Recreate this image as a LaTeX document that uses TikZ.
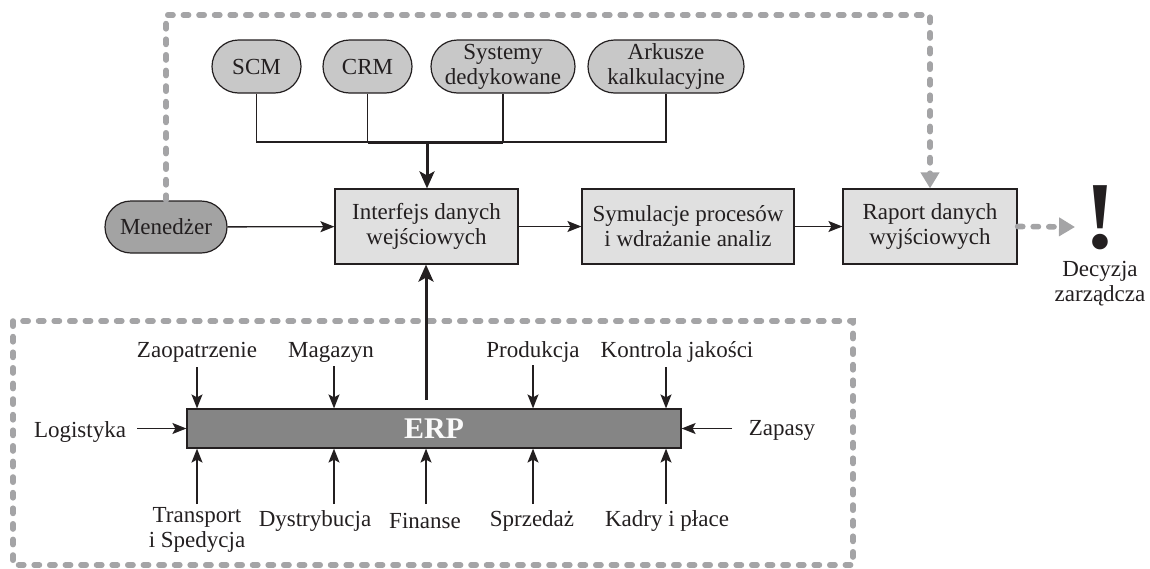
\documentclass[tikz,border=0pt]{standalone}
\usepackage{fontspec}
\setmainfont{Liberation Serif}
\usetikzlibrary{arrows.meta,shapes.misc}
\definecolor{pillgray}{HTML}{C8C8C8}
\definecolor{mangray}{HTML}{A3A3A3}
\definecolor{boxgray}{HTML}{E0E0E0}
\definecolor{erpgray}{HTML}{858585}
\definecolor{dashgray}{HTML}{A4A4A6}
\definecolor{ink}{HTML}{231F20}
\tikzset{
  pill/.style={rounded rectangle, draw=ink, line width=0.6pt, fill=pillgray,
    minimum height=26.5pt, inner sep=0pt, align=center, text=ink},
  stagebox/.style={rectangle, draw=ink, line width=0.6pt, fill=boxgray,
    minimum height=37.5pt, inner sep=0pt, align=center, text=ink},
  lbl/.style={inner sep=0pt, align=center, text=ink},
  flow/.style={draw=ink, line width=0.65pt, -{Stealth[length=7pt,width=5.5pt,inset=1.5pt]}},
  feed/.style={draw=ink, line width=0.6pt},
  heavy/.style={draw=ink, line width=1.5pt},
  heavyarrow/.style={heavy, -{Stealth[length=8.5pt,width=7.5pt,inset=2pt]}},
  loopline/.style={draw=dashgray, line width=2.8pt, line cap=round,
    dash pattern=on 2.6pt off 5.2pt},
  looparrow/.style={loopline, -{Triangle[length=8pt,width=9pt]}}
}
\begin{document}
\begin{tikzpicture}[x=0.5pt,y=-0.5pt,font=\fontsize{11.5}{12.5}\selectfont]
\useasboundingbox (0,0) rectangle (1150,568);

% ERP module frame
\draw[loopline] (13,321) rectangle (853,565);

% source systems
\node[pill, minimum width=44.5pt] (scm) at (256.5,66.5) {SCM};
\node[pill, minimum width=44.5pt] (crm) at (367.5,66.5) {CRM};
\node[pill, minimum width=72pt]   (sys) at (503,66.5) {Systemy\\dedykowane};
\node[pill, minimum width=78pt]   (ark) at (666,66.5) {Arkusze\\kalkulacyjne};

% main chain
\node[pill, fill=mangray, minimum width=61pt, minimum height=26pt] (men) at (166,227) {Menedżer};
\node[stagebox, minimum width=91.5pt] (intf) at (426.5,226.5) {Interfejs danych\\wejściowych};
\node[stagebox, minimum width=106pt]  (sym)  at (688,226.5) {Symulacje procesów\\i wdrażanie analiz};
\node[stagebox, minimum width=87pt]   (rap)  at (930,226.5) {Raport danych\\wyjściowych};

% decision
\node[lbl, anchor=base, text depth=0pt, font=\fontsize{48}{48}\selectfont\bfseries] (exc) at (1100,248) {!};
\node[lbl] (decl) at (1100,284) {Decyzja\\zarządcza};

% ERP bar
\node[rectangle, draw=ink, line width=0.6pt, fill=erpgray, minimum width=247pt,
  minimum height=19.5pt, inner sep=0pt, text=gray!4,
  font=\fontsize{15}{15}\selectfont\bfseries] (erp) at (434,428.5) {ERP};

% module labels
\node[lbl] (zao) at (197,352) {Zaopatrzenie};
\node[lbl] (mag) at (331,352) {Magazyn};
\node[lbl] (pro) at (533,352) {Produkcja};
\node[lbl] (kon) at (677,352) {Kontrola jakości};
\node[lbl] (log) at (80,432) {Logistyka};
\node[lbl] (zap) at (782,430) {Zapasy};
\node[lbl] (tra) at (197,530) {Transport\\i Spedycja};
\node[lbl] (dys) at (315,521) {Dystrybucja};
\node[lbl] (fin) at (425,521) {Finanse};
\node[lbl] (spr) at (532,521) {Sprzedaż};
\node[lbl] (kad) at (667,521) {Kadry i płace};

% bus from source systems
\coordinate (bus) at (427,142);
\draw[feed] (scm.south) -- (scm.south |- bus) -- (ark.south |- bus) -- (ark.south);
\draw[feed] (crm.south) -- (crm.south |- bus);
\draw[feed] (sys.south) -- (sys.south |- bus);
\draw[heavy] (crm.south |- bus) -- (sys.south |- bus);
\draw[heavyarrow] (bus) -- (bus |- intf.north);

% chain arrows
\draw[flow] (men) -- (intf);
\draw[flow] (intf) -- (sym);
\draw[flow] (sym) -- (rap);

% ERP output to the interface
\coordinate (erpout) at (426,400);
\draw[heavyarrow] (erpout) -- (erpout |- intf.south);

% modules feeding ERP
\coordinate (zao-in) at (197,367);
\coordinate (mag-in) at (334,366);
\coordinate (pro-in) at (533,365);
\coordinate (kon-in) at (666,367);
\foreach \c in {zao-in,mag-in,pro-in,kon-in}
  \draw[flow] (\c) -- (\c |- erp.north);
\coordinate (tra-in) at (197,504);
\coordinate (dys-in) at (334,504);
\coordinate (fin-in) at (426,504);
\coordinate (spr-in) at (533,504);
\coordinate (kad-in) at (666,504);
\foreach \c in {tra-in,dys-in,fin-in,spr-in,kad-in}
  \draw[flow] (\c) -- (\c |- erp.south);
\coordinate (log-out) at (137,428.5);
\draw[flow] (log-out) -- (erp.west);
\coordinate (zap-out) at (732,428.5);
\draw[flow] (zap-out) -- (erp.east);

% feedback loop from the manager to the report
\coordinate (looptop) at (930,15);
\draw[looparrow] (men.north) |- (looptop) -- (rap.north);

% report to decision
\coordinate (dec-in) at (1075,227);
\draw[looparrow] (rap.east) -- (dec-in);
\end{tikzpicture}
\end{document}
